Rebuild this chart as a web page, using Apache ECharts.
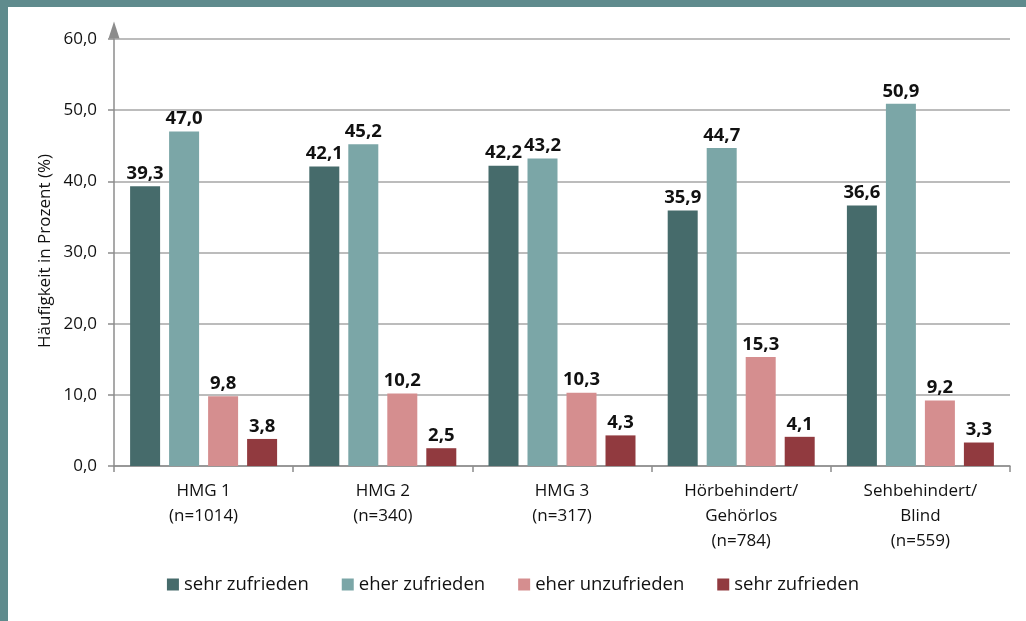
<!DOCTYPE html>
<html>
<head>
<meta charset="utf-8">
<script src="https://cdn.jsdelivr.net/npm/echarts@6/dist/echarts.min.js"></script>
<style>
  html, body { margin: 0; padding: 0; background: #fff; }
  #chart { width: 1026px; height: 621px; }
</style>
</head>
<body>
<div id="chart"></div>
<script>
  // Kategorien (Gruppen) und Serien
  var categories = ['HMG 1\n(n=1014)', 'HMG 2\n(n=340)', 'HMG 3\n(n=317)', 'Hörbehindert/\nGehörlos\n(n=784)', 'Sehbehindert/\nBlind\n(n=559)']
  var seriesNames = ['sehr zufrieden', 'eher zufrieden', 'eher unzufrieden', 'sehr zufrieden']
  var sehrZufrieden = [39.3, 42.1, 42.2, 35.9, 36.6]
  var eherZufrieden = [47.0, 45.2, 43.2, 44.7, 50.9]
  var eherUnzufrieden = [9.8, 10.2, 10.3, 15.3, 9.2]
  var sehrZufrieden2 = [3.8, 2.5, 4.3, 4.1, 3.3]
  var yTicks = [0, 10, 20, 30, 40, 50, 60]

  var colors = ['#466b6b', '#7ba6a7', '#d58e8f', '#913a3f']
  var allData = [sehrZufrieden, eherZufrieden, eherUnzufrieden, sehrZufrieden2]
  var font = '"Open Sans", "Noto Sans", sans-serif'

  function komma(v) {
    return v.toFixed(1).replace('.', ',')
  }

  var chart = echarts.init(document.getElementById('chart'))

  // doppelter Name -> Leerzeichen anhängen, im Legendentext wieder entfernen
  var series = allData.map(function (d, i) {
    return {
      name: seriesNames[i] + (seriesNames.indexOf(seriesNames[i]) !== i ? ' ' : ''),
      type: 'bar',
      data: d,
      barWidth: 30,
      barGap: '30%',
      itemStyle: { color: colors[i] },
      label: {
        show: true,
        position: 'top',
        distance: 3,
        formatter: function (p) { return komma(p.value) },
        fontFamily: font,
        fontSize: 18.5,
        fontWeight: 'bold',
        color: '#111'
      }
    }
  })

  chart.setOption({
    animation: false,
    backgroundColor: '#fff',
    textStyle: { fontFamily: font },
    graphic: [
      { type: 'rect', shape: { x: 0, y: 0, width: 1026, height: 7 }, style: { fill: '#5f8b8d' } },
      { type: 'rect', shape: { x: 0, y: 0, width: 8, height: 621 }, style: { fill: '#5f8b8d' } },
      {
        type: 'text',
        x: 45, y: 251,
        rotation: Math.PI / 2,
        style: {
          text: 'Häufigkeit in Prozent (%)',
          font: '17px ' + font,
          fill: '#111',
          align: 'center',
          verticalAlign: 'middle'
        }
      }
    ],
    legend: {
      top: 570,
      left: 'center',
      itemWidth: 12,
      itemHeight: 12,
      itemGap: 33,
      icon: 'rect',
      textStyle: { fontSize: 18.5, color: '#111', fontFamily: font },
      formatter: function (n) { return n.trim() },
      data: series.map(function (s) { return s.name })
    },
    grid: { left: 114, right: 16, top: 39, bottom: 155 },
    xAxis: {
      type: 'category',
      data: categories,
      axisLine: { lineStyle: { color: '#8c8c8c', width: 1.5 } },
      axisTick: { show: true, length: 6, lineStyle: { color: '#8c8c8c', width: 1.5 } },
      axisLabel: { fontSize: 17, color: '#111', lineHeight: 25, margin: 13, interval: 0 }
    },
    yAxis: {
      type: 'value',
      min: yTicks[0],
      max: yTicks[yTicks.length - 1],
      interval: 10,
      axisLine: {
        show: true,
        symbol: ['none', 'triangle'],
        symbolSize: [11, 17],
        symbolOffset: [0, 9],
        lineStyle: { color: '#8c8c8c', width: 1.5 }
      },
      axisTick: { show: true, length: 6, lineStyle: { color: '#8c8c8c', width: 1.5 } },
      axisLabel: { fontSize: 17, color: '#111', margin: 17, formatter: function (v) { return komma(v) } },
      splitLine: { lineStyle: { color: '#a6a6a6', width: 1.5 } }
    },
    series: series
  })
</script>
</body>
</html>
